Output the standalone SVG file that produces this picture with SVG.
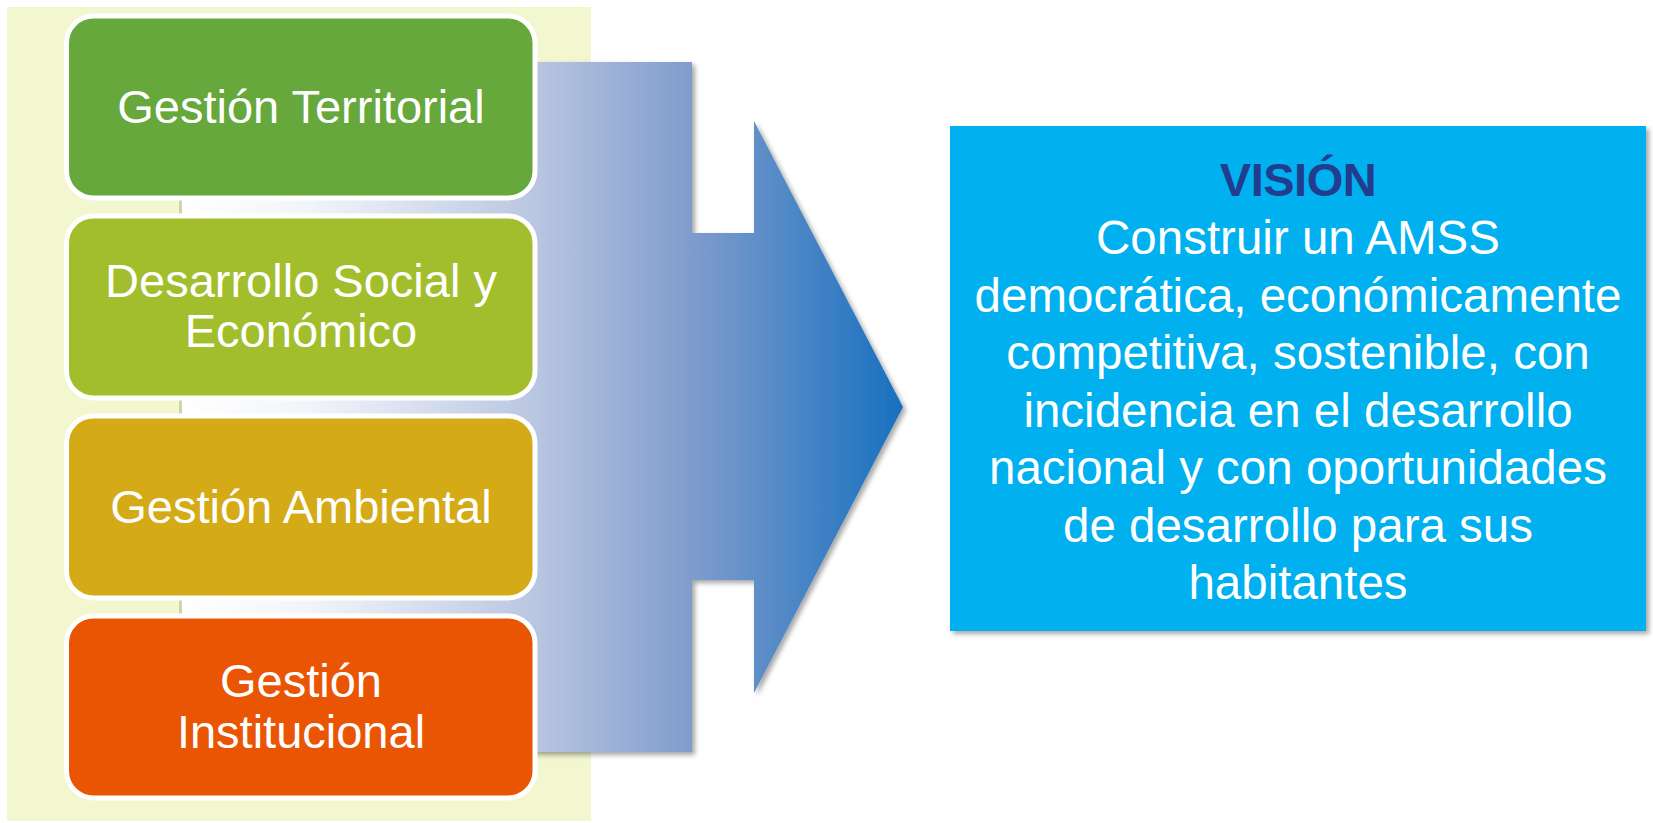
<svg xmlns="http://www.w3.org/2000/svg" width="1653" height="823" viewBox="0 0 1653 823">
  <defs>
    <style>
      .box { stroke: #FFFFFF; stroke-width: 5; }
      .lbl { font-family: "Liberation Sans", Arial, sans-serif; font-size: 47px; fill: #FFFFFF; text-anchor: middle; }
      .vis { font-family: "Liberation Sans", Arial, sans-serif; font-size: 47.5px; fill: #FFFFFF; text-anchor: middle; }
      .vtitle { font-family: "Liberation Sans", Arial, sans-serif; font-size: 47px; font-weight: bold; fill: #233D8E; text-anchor: middle; letter-spacing: -0.5px; }
    </style>
    <linearGradient id="arrowGrad" gradientUnits="userSpaceOnUse" x1="182" y1="0" x2="903" y2="0">
      <stop offset="0" stop-color="#FFFFFF"/>
      <stop offset="0.18" stop-color="#F1F4FA"/>
      <stop offset="0.49" stop-color="#B9C6E1"/>
      <stop offset="0.708" stop-color="#7F9CCD"/>
      <stop offset="1" stop-color="#1770BF"/>
    </linearGradient>
    <filter id="shadow" x="-5%" y="-5%" width="112%" height="112%">
      <feDropShadow dx="3" dy="3" stdDeviation="2.5" flood-color="#000000" flood-opacity="0.35"/>
    </filter>
  </defs>

  <rect id="background" x="7" y="7" width="584" height="814" fill="#F2F7D0"/>

  <g id="connectors">
    <path d="M182,62 L692,62 L692,233 L754,233 L754,121 L903,407 L754,693 L754,580 L692,580 L692,752 L182,752 Z" fill="url(#arrowGrad)" filter="url(#shadow)"/>
    <rect x="179" y="62" width="3" height="690" fill="#D3D1AE"/>
  </g>

  <g id="node-territorial">
    <rect class="box" x="66.5" y="16" width="468.5" height="182" rx="27" fill="#66A83C"/>
    <text class="lbl" x="301" y="123.3">Gestión Territorial</text>
  </g>

  <g id="node-social">
    <rect class="box" x="66.5" y="216" width="468.5" height="182" rx="27" fill="#A3BE2D"/>
    <text class="lbl" x="301" y="296.7">Desarrollo Social y</text>
    <text class="lbl" x="301" y="346.7">Económico</text>
  </g>

  <g id="node-ambiental">
    <rect class="box" x="66.5" y="416" width="468.5" height="182" rx="27" fill="#D4AA17"/>
    <text class="lbl" x="301" y="522.7">Gestión Ambiental</text>
  </g>

  <g id="node-institucional">
    <rect class="box" x="66.5" y="616" width="468.5" height="182" rx="27" fill="#EA5504"/>
    <text class="lbl" x="301" y="697.3">Gestión</text>
    <text class="lbl" x="301" y="748.3">Institucional</text>
  </g>

  <g id="node-vision">
    <rect x="950" y="126" width="696" height="505" fill="#02B0EF" filter="url(#shadow)"/>
    <text class="vtitle" x="1298" y="196">VISIÓN</text>
    <text class="vis" x="1298" y="254">Construir un AMSS</text>
    <text class="vis" x="1298" y="311.5">democrática, económicamente</text>
    <text class="vis" x="1298" y="369">competitiva, sostenible, con</text>
    <text class="vis" x="1298" y="426.5">incidencia en el desarrollo</text>
    <text class="vis" x="1298" y="484">nacional y con oportunidades</text>
    <text class="vis" x="1298" y="541.5">de desarrollo para sus</text>
    <text class="vis" x="1298" y="599">habitantes</text>
  </g>
</svg>
